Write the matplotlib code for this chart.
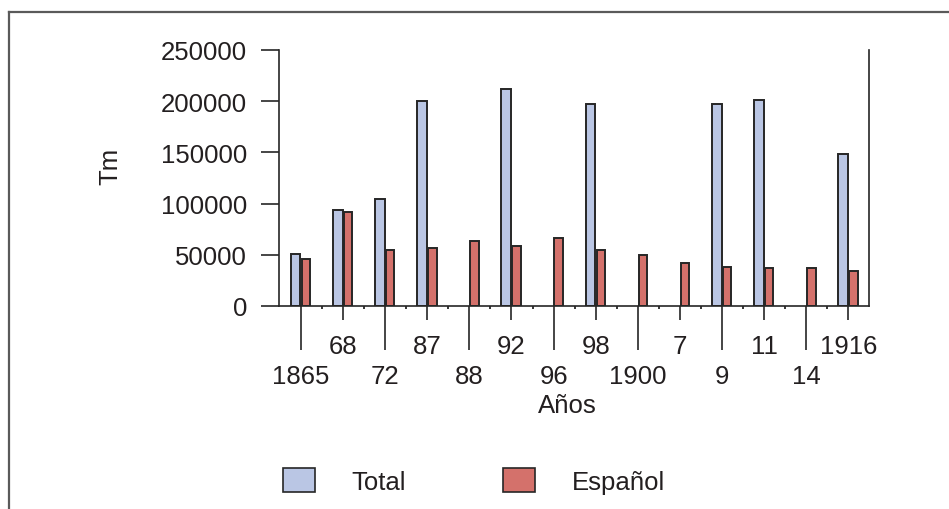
"""Exportaciones de mineral: total y a España (Tm), 1865-1916."""

import numpy as np
import matplotlib
matplotlib.use("Agg")
import matplotlib.pyplot as plt
from matplotlib.lines import Line2D
from matplotlib.patches import Patch

# ---------------------------------------------------------------------------
# Datos
# ---------------------------------------------------------------------------
years = ["1865", "68", "72", "87", "88", "92", "96", "98",
         "1900", "7", "9", "11", "14", "1916"]
total = [51000, 93800, 104200, 199900, np.nan, 211900, np.nan, 197300,
         np.nan, np.nan, 197300, 201200, np.nan, 148100]
espanol = [46200, 91800, 55000, 56300, 63800, 58900, 66100, 55000,
           49500, 42300, 37800, 36800, 36800, 33900]

C_TOTAL = "#bac6e4"
C_ESP = "#d4716b"
EDGE = "#262626"
AXC = "#262626"
TXT = "#231f20"

plt.rcParams["font.family"] = ["Liberation Sans", "DejaVu Sans"]
plt.rcParams["font.size"] = 18.5

fig = plt.figure(figsize=(9.49, 5.10), dpi=100)
ax = fig.add_axes([279 / 949, 1 - 307 / 510, 590 / 949, 256 / 510])

x = np.arange(len(years))
ax.bar(x - 0.01, total, width=-0.23, align="edge", color=C_TOTAL,
       edgecolor=EDGE, linewidth=1.4)
ax.bar(x + 0.02, espanol, width=0.2, align="edge", color=C_ESP,
       edgecolor=EDGE, linewidth=1.4)

ax.set_xlim(-0.52, 13.49)
ax.set_ylim(0, 250000)
ax.set_yticks(np.arange(0, 250001, 50000))

for s in ("left", "bottom", "right"):
    ax.spines[s].set_color(AXC)
    ax.spines[s].set_linewidth(1.2)
ax.spines["top"].set_visible(False)

ax.tick_params(axis="y", direction="out", length=13, width=1.2,
               color=AXC, pad=10, labelcolor=TXT)
ax.tick_params(axis="x", which="major", direction="out", length=10.4,
               width=1.2, color=AXC, pad=9.6, labelcolor=TXT)
ax.tick_params(axis="x", which="minor", direction="out", length=2,
               width=1.3, color=AXC)

ax.set_xticks(x)
ax.set_xticklabels(years)
ax.set_xticks(x[:-1] + 0.5, minor=True)

# etiquetas escalonadas: las pares van abajo con marca larga
# (set_pad reinicia el tamaño de la marca, así que va primero)
for i, tick in enumerate(ax.xaxis.get_major_ticks()):
    if i % 2 == 0:
        tick.set_pad(9.6 + 21.6)
        tick.tick1line.set_markersize(32)

ax.set_ylabel("Tm", color=TXT)
ax.yaxis.set_label_coords(-0.266, 0.55)
ax.set_xlabel("Años", color=TXT)
ax.xaxis.set_label_coords(0.488, -0.34)

handles = [Patch(facecolor=C_TOTAL, edgecolor=EDGE, linewidth=1.2, label="Total"),
           Patch(facecolor=C_ESP, edgecolor=EDGE, linewidth=1.2, label="Español")]
leg = fig.legend(handles=handles, loc="center left",
                 bbox_to_anchor=(260 / 949, 1 - 482 / 510), ncol=2,
                 frameon=False, handlelength=1.25, handleheight=1.05,
                 handletextpad=1.4, columnspacing=3.8)
for t in leg.get_texts():
    t.set_color(TXT)

# marco exterior (recortado a la derecha y abajo)
fig.add_artist(Line2D([8.5 / 949, 1], [1 - 13 / 510, 1 - 13 / 510],
                      transform=fig.transFigure, color="#5a5a5a", linewidth=1.6))
fig.add_artist(Line2D([8.5 / 949, 8.5 / 949], [0, 1 - 13 / 510],
                      transform=fig.transFigure, color="#5a5a5a", linewidth=1.6))

fig.savefig("out.png", dpi=100)
